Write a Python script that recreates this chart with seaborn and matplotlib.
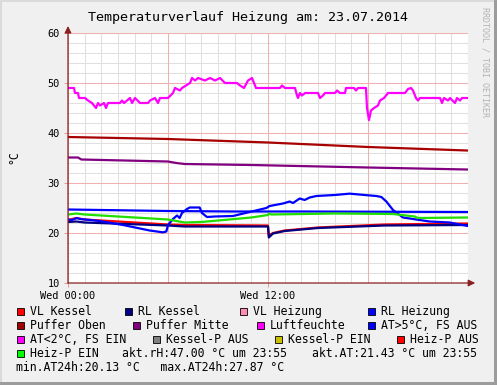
import matplotlib
matplotlib.use("Agg")
import matplotlib.pyplot as plt
import seaborn as sns
from matplotlib.patches import Rectangle

# --- Daten (Stunden seit 00:00, Werte in °C) ---
luft_h = [0.00, 0.36, 0.42, 0.60, 0.66, 1.02, 1.20, 1.44, 1.68, 1.80, 1.92, 2.16, 2.28, 2.40,
          3.12, 3.24, 3.36, 3.72, 3.84, 4.02, 4.32, 4.80, 4.92, 5.22, 5.40, 5.52, 6.00, 6.30,
          6.42, 6.72, 6.84, 7.32, 7.44, 7.62, 7.80, 8.22, 8.52, 8.82, 9.12, 9.42, 10.14, 10.32,
          10.56, 10.80, 11.04, 11.28, 12.72, 12.84, 13.02, 13.62, 13.74, 13.80, 13.92, 14.04,
          14.22, 15.00, 15.12, 15.30, 15.42, 16.02, 16.14, 16.32, 16.62, 16.68, 17.16, 17.28,
          17.40, 17.88, 17.94, 18.06, 18.18, 18.36, 18.60, 18.72, 18.96, 19.08, 19.20, 20.22,
          20.40, 20.58, 20.70, 20.88, 21.00, 21.12, 22.32, 22.44, 22.56, 22.80, 22.92, 23.22,
          23.34, 23.52, 23.64, 23.94]
luft_v = [49, 49, 48, 48, 47, 47, 46.5, 46, 45, 46, 45.5, 46, 45, 46,
          46, 46.5, 46, 47, 46, 47, 46, 46, 46.5, 47, 46, 47, 47, 48,
          49, 48.5, 49, 50, 51, 50.5, 51, 50.5, 51, 50.5, 51, 50, 50, 49.5,
          49, 50.5, 51, 49, 49, 49.5, 49, 49, 47.5, 47, 48, 47.5,
          48, 48, 47, 47.5, 48, 48, 48.5, 48, 48, 49, 49, 48.5,
          49, 49, 45, 42.6, 44.5, 45, 45.5, 46.5, 47, 47.5, 48, 48,
          48.8, 49, 48.5, 47, 46.5, 47, 47, 46, 47, 46.5, 47, 46,
          47, 46.5, 47, 47]

puffer_oben_h = [0, 6, 12, 18, 23.94]
puffer_oben_v = [39.2, 38.8, 38.1, 37.2, 36.5]

puffer_mitte_h = [0, 0.6, 0.8, 6, 6.5, 7, 11, 18, 23.94]
puffer_mitte_v = [35.1, 35.1, 34.7, 34.3, 34.0, 33.8, 33.6, 33.1, 32.7]

rl_heizung_h = [0, 6, 10, 14, 23.94]
rl_heizung_v = [24.7, 24.4, 24.3, 24.3, 24.2]

at_h = [0, 0.24, 0.54, 0.72, 1.9, 3.3, 4.9, 5.7, 5.9, 6.0, 6.3, 6.54, 6.7, 6.84, 7.14, 7.3,
        7.9, 8.04, 8.34, 8.8, 9.9, 10.9, 11.9, 12.1, 12.9, 13.3, 13.5, 13.9, 14.2, 14.5, 14.9,
        16.0, 16.9, 17.8, 18.5, 18.8, 19.1, 19.5, 20.1, 20.9, 21.7, 22.9, 23.94]
at_v = [22.7, 22.6, 23.0, 22.8, 22.4, 21.6, 20.5, 20.13, 20.3, 21.6, 22.8, 23.5, 23.0, 24.0, 24.8, 25.1,
        25.1, 24.0, 23.2, 23.3, 23.4, 24.2, 25.0, 25.4, 25.9, 26.3, 26.0, 26.9, 26.6, 27.1, 27.4,
        27.6, 27.87, 27.6, 27.4, 27.2, 26.3, 24.6, 23.1, 22.7, 22.3, 22.1, 21.43]

heizp_h = [0, 0.5, 1, 5, 6, 7, 8, 11, 12, 12.05, 12.2, 16, 19.5, 20.8, 21, 23.94]
heizp_v = [23.7, 23.9, 23.7, 22.9, 22.7, 22.1, 22.2, 23.1, 23.6, 23.9, 23.7, 23.9, 23.8, 23.3, 23.0, 23.1]

vl_kessel_h = [0, 0.5, 1, 6, 7, 12, 12.05, 12.3, 13, 15, 19, 23.94]
vl_kessel_v = [22.6, 23.0, 22.7, 21.7, 21.6, 21.5, 19.5, 20.0, 20.5, 21.1, 21.7, 21.9]

rl_kessel_h = [0, 0.5, 1, 6, 7, 12, 12.05, 12.3, 13, 15, 19, 23.94]
rl_kessel_v = [22.2, 22.3, 22.1, 21.5, 21.3, 21.3, 19.1, 19.9, 20.4, 21.0, 21.5, 21.6]

y_ticks = [10, 20, 30, 40, 50, 60]
x_ticks = [0, 12]
x_labels = ["Wed 00:00", "Wed 12:00"]

legend_labels = ["VL Kessel", "RL Kessel", "VL Heizung", "RL Heizung",
                 "Puffer Oben", "Puffer Mitte", "Luftfeuchte", "AT>5°C, FS AUS",
                 "AT<2°C, FS EIN", "Kessel-P AUS", "Kessel-P EIN", "Heiz-P AUS",
                 "Heiz-P EIN"]
legend_colors = ["#ff0000", "#000080", "#ff8cb4", "#0000ff",
                 "#a00000", "#800080", "#ff00ff", "#0000ff",
                 "#ff00ff", "#808080", "#c8c000", "#ff0000",
                 "#00ff00"]
info_texts = ["akt.rH:47.00 °C um 23:55", "akt.AT:21.43 °C um 23:55",
              "min.AT24h:20.13 °C   max.AT24h:27.87 °C"]

title = "Temperaturverlauf Heizung am: 23.07.2014"

# --- Layout ---
W, H = 497, 385
plt.rcParams['font.family'] = ['DejaVu Sans Mono', 'DejaVu Sans']


def fx(x):
    return x / W


def fy(y):
    return 1 - y / H


fig = plt.figure(figsize=(W / 100, H / 100), dpi=100, facecolor='#f0f0f0')
ax = fig.add_axes([fx(68), fy(283), 400 / W, 250 / H])
ax.set_facecolor('white')

# Gitter wie rrdtool
for h in range(25):
    major = h % 6 == 0
    ax.axvline(h, color='#f0b0b0' if major else '#e0e0e0', lw=0.75, zorder=1 if major else 0.5)
for v in range(10, 61, 2):
    major = v % 10 == 0
    ax.axhline(v, color='#f0b0b0' if major else '#e0e0e0', lw=0.75, zorder=1 if major else 0.5)

lw = 1.6
series = [
    (vl_kessel_h, vl_kessel_v, '#ff0000'),
    (rl_kessel_h, rl_kessel_v, '#000080'),
    (rl_heizung_h, rl_heizung_v, '#0000ff'),
    (puffer_oben_h, puffer_oben_v, '#a80000'),
    (puffer_mitte_h, puffer_mitte_v, '#800080'),
    (luft_h, luft_v, '#ff00ff'),
    (at_h, at_v, '#0000ff'),
    (heizp_h, heizp_v, '#22dd00'),
]
for hx, vy, c in series:
    sns.lineplot(x=hx, y=vy, ax=ax, color=c, linewidth=lw, estimator=None,
                 sort=False, legend=False, zorder=3)

ax.set_xlim(0, 24)
ax.set_ylim(10, 60)
for s in ax.spines.values():
    s.set_visible(False)
ax.set_xlabel('')
ax.set_ylabel('')
ax.set_yticks(y_ticks)
ax.set_yticklabels([str(t) for t in y_ticks], fontsize=7.4)
ax.set_xticks(x_ticks)
ax.set_xticklabels(x_labels, fontsize=7.4)
ax.tick_params(axis='y', length=3, width=0.75, color='#e0a0a0', pad=3)
ax.tick_params(axis='x', length=3, width=0.75, color='#e0a0a0', pad=3)

# Achsen mit Pfeilen
arrow = dict(arrowstyle='-|>,head_length=0.4,head_width=0.2', color='#8a2020', lw=0.9,
             shrinkA=0, shrinkB=0)
ax.annotate('', xy=(0, 1.028), xytext=(0, 0), xycoords='axes fraction', arrowprops=arrow,
            annotation_clip=False)
ax.annotate('', xy=(1.018, 0), xytext=(0, 0), xycoords='axes fraction', arrowprops=arrow,
            annotation_clip=False)

# Titel, Einheit, Wasserzeichen
fig.text(fx(248), fy(21), title, ha='center', va='baseline', fontsize=9.6)
fig.text(fx(14), fy(157), '°C', ha='center', va='center', rotation=90, fontsize=8.3)
fig.text(fx(485.5), fy(7), 'RRDTOOL / TOBI OETIKER', ha='center', va='top', rotation=270,
         fontsize=6, color='#b4b4b4')

# Legende
box_x = [17, 125, 240, 368,
         17, 133, 257, 368,
         17, 153, 275, 397,
         17]
row_base = [315, 329, 343, 357, 371]
for i, (lab, col) in enumerate(zip(legend_labels, legend_colors)):
    bx = box_x[i]
    by = row_base[i // 4]
    fig.add_artist(Rectangle((fx(bx), fy(by)), 7 / W, 7 / H, transform=fig.transFigure,
                             facecolor=col, edgecolor='black', lw=0.6))
    fig.text(fx(bx + 13), fy(by), lab, ha='left', va='baseline', fontsize=8.3)

fig.text(fx(122.5), fy(row_base[3]), info_texts[0], ha='left', va='baseline', fontsize=8.3)
fig.text(fx(312), fy(row_base[3]), info_texts[1], ha='left', va='baseline', fontsize=8.3)
fig.text(fx(16.5), fy(row_base[4]), info_texts[2], ha='left', va='baseline', fontsize=8.3)

# Rahmen
fig.add_artist(Rectangle((0, 1 - 2 / H), 1, 2 / H, transform=fig.transFigure, color='#dadada', lw=0))
fig.add_artist(Rectangle((0, 0), 2 / W, 1, transform=fig.transFigure, color='#dadada', lw=0))
fig.add_artist(Rectangle((1 - 3 / W, 0), 3 / W, 1, transform=fig.transFigure, color='#9c9c9c', lw=0))
fig.add_artist(Rectangle((0, 0), 1, 3 / H, transform=fig.transFigure, color='#9c9c9c', lw=0))

fig.savefig('out.png', dpi=100, facecolor=fig.get_facecolor())
